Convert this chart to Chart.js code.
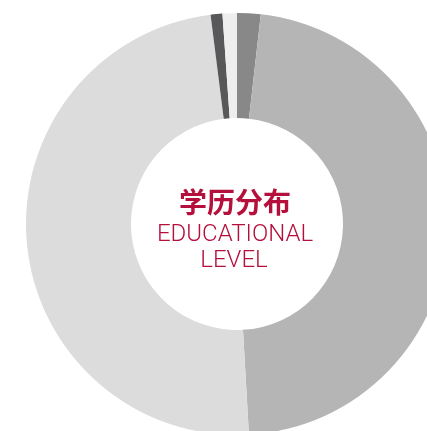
<!DOCTYPE html>
<html>
<head>
<meta charset="utf-8">
<script src="https://cdn.jsdelivr.net/npm/chart.js@4/dist/chart.umd.min.js"></script>
<style>
  html, body { margin: 0; padding: 0; background: #fff; }
  #wrap { position: relative; width: 427px; height: 431px; overflow: hidden; }
  #eduChart { position: absolute; left: 26px; top: 13px; }
</style>
</head>
<body>
<div id="wrap"><canvas id="eduChart" width="422" height="422"></canvas></div>
<script>
// slices, clockwise from 12 o'clock (percent)
const categories = ['类别1', '类别2', '类别3', '类别4', '类别5'];
const shares = [1.8, 47.3, 48.9, 0.9, 1.1];
const sliceColors = ['#888888', '#b4b5b4', '#dbdcdb', '#58585a', '#eeeeee'];
const titleLines = ['学历分布', 'EDUCATIONAL', 'LEVEL'];

// draws the title in the hole
const centerText = {
    id: 'centerText',
    afterDraw(chart) {
        const arc = chart.getDatasetMeta(0).data[0];
        if (!arc) return;
        const ctx = chart.ctx;
        const cx = arc.x, cy = arc.y;
        ctx.save();
        ctx.textAlign = 'center';
        ctx.textBaseline = 'alphabetic';
        ctx.fillStyle = '#b5103c';
        ctx.font = 'bold 28px "Noto Sans CJK SC"';
        ctx.fillText(titleLines[0], cx - 2, cy - 11);
        ctx.font = '300 24px Roboto';
        ctx.fillText(titleLines[1], cx - 2, cy + 17);
        ctx.fillText(titleLines[2], cx - 3, cy + 43);
        ctx.restore();
    }
};

new Chart(document.getElementById('eduChart').getContext('2d'), {
    type: 'doughnut',
    data: {
        labels: categories,
        datasets: [{ data: shares, backgroundColor: sliceColors, borderWidth: 0 }]
    },
    options: {
        responsive: false,
        animation: false,
        cutout: 106,
        layout: { padding: 0 },
        plugins: { legend: { display: false }, tooltip: { enabled: false } }
    },
    plugins: [centerText]
});
</script>
</body>
</html>
